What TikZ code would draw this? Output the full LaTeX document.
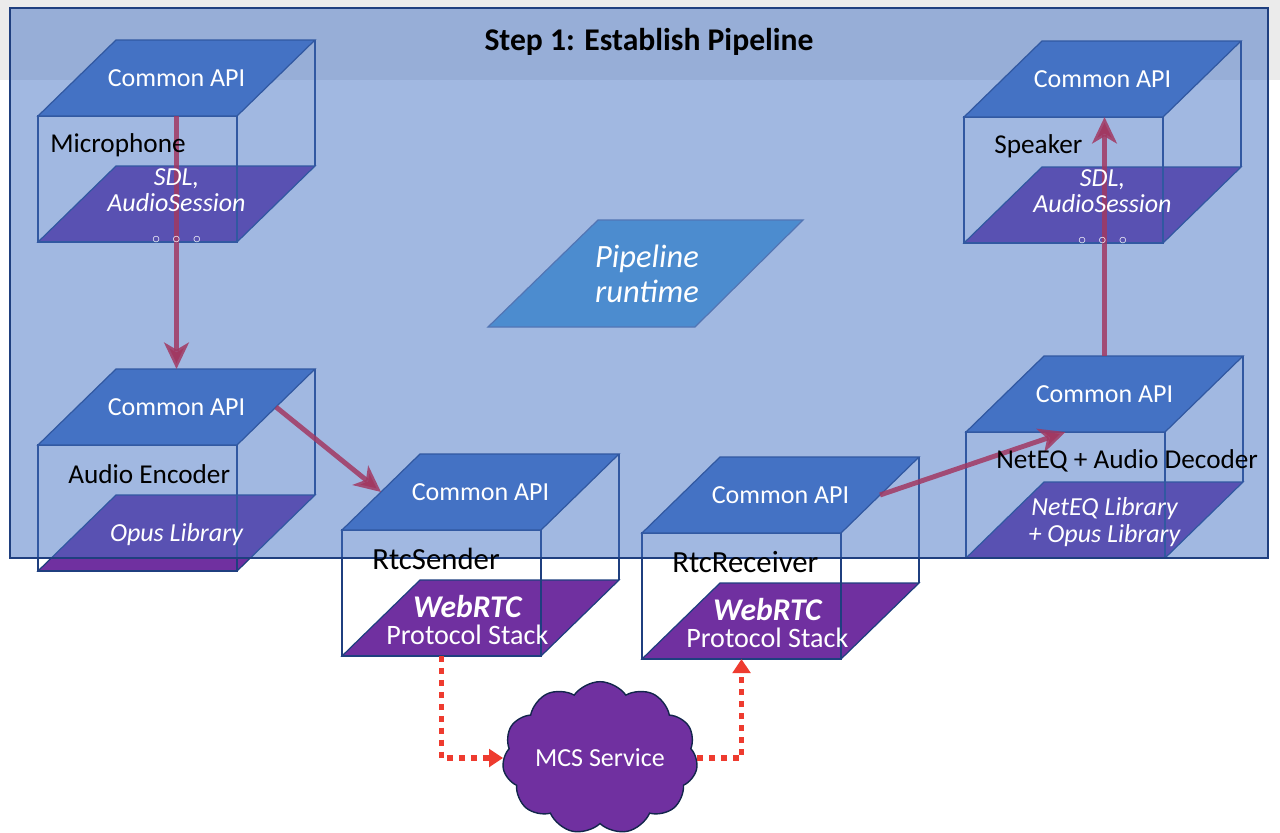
\documentclass[tikz,border=0pt]{standalone}
\usepackage{fontspec}
\setmainfont{Carlito}
\usetikzlibrary{calc, arrows.meta, shapes.symbols}

\definecolor{apiblue}{HTML}{4472C4}
\definecolor{libpurple}{HTML}{7030A0}
\definecolor{boxnavy}{HTML}{1F3F7F}
\definecolor{runblue}{HTML}{55A8DC}
\definecolor{linkred}{HTML}{FF0000}
\definecolor{netred}{HTML}{EE3B2F}
\definecolor{bandgray}{HTML}{EBEBEB}

\pgfdeclarelayer{boxes}
\pgfdeclarelayer{veil}
\pgfsetlayers{boxes,veil,main}

\tikzset{
  txt/.style={font=\fontsize{14.8}{17}\selectfont, inner sep=0pt},
  apitext/.style={txt, text=white},
  libtext/.style={txt, text=white, font=\fontsize{14.8}{15}\selectfont\itshape, align=center},
  boxlabel/.style={txt, anchor=west, font=\fontsize{15.5}{18}\selectfont},
  boxline/.style={draw=boxnavy, line width=0.7pt},
  flow/.style={draw=linkred, draw opacity=0.85, line width=2.8pt, -{Stealth[length=15pt,width=14pt,inset=4pt]}},
  net/.style={draw=netred, line width=3.2pt, dash pattern=on 3.4pt off 3.4pt, -{Triangle[length=8pt,width=10pt]}},
}

% one component box: [label shift] name, front top corner, label, library text
\newcommand\apibox[5][30]{%
  \begin{pgfonlayer}{boxes}
    \path[boxline, fill=libpurple] ($#3+(0,126)$) -- ++(199,0) -- ++(78,-76) -- ++(-199,0) -- cycle;
    \draw[boxline] #3 rectangle ++(199,126);
    \draw[boxline] ($#3+(277,-76)$) -- ++(0,126);
    \path[boxline, fill=apiblue] #3 -- ++(199,0) -- ++(78,-76) -- ++(-199,0) -- cycle;
  \end{pgfonlayer}
  \coordinate (#2-front) at ($#3+(99.5,0)$);
  \coordinate (#2-back)  at ($#3+(177.5,-76)$);
  \coordinate (#2-left)  at ($#3+(39,-38)$);
  \coordinate (#2-right) at ($#3+(238,-38)$);
  \coordinate (#2-base)  at ($#3+(99.5,126)$);
  \node[apitext]  (#2-api) at ($#3+(138.5,-38)$) {Common API};
  \node[boxlabel] (#2-lbl) at ($#3+(#1,29)$) {#4};
  \node[libtext]  (#2-lib) at ($#3+(138.5,90)$) {#5};
}
\newcommand\morerings{\fontsize{9}{9}\selectfont$\circ$\hspace{7pt}$\circ$\hspace{7pt}$\circ$}
\newcommand\webrtc{\fontsize{18}{19}\selectfont\bfseries WebRTC\hspace*{15pt}\\\fontsize{16}{19}\selectfont\upshape\mdseries Protocol Stack\hspace*{15pt}}

\begin{document}
\begin{tikzpicture}[x=0.02cm, y=-0.02cm]
  \useasboundingbox (0,0) rectangle (1280,832);
  \begin{pgfonlayer}{boxes}
    \fill[bandgray] (0,0) rectangle (1280,80);
  \end{pgfonlayer}

  \apibox[12]{mic}{(38,116)}{Microphone}{SDL,\\AudioSession\\[3pt]{\morerings}}
  \apibox{enc}{(38,445)}{Audio Encoder}{Opus Library}
  \apibox{snd}{(342,530)}{\fontsize{17.5}{20}\selectfont RtcSender}{\webrtc}
  \apibox{rcv}{(642,533)}{\fontsize{17.5}{20}\selectfont RtcReceiver}{\webrtc}
  \apibox{dec}{(966,432)}{NetEQ + Audio Decoder}{\fontsize{14.8}{16.5}\selectfont NetEQ Library\\+ Opus Library}
  \apibox{spk}{(964,117)}{Speaker}{SDL,\\AudioSession\\[3pt]{\morerings}}

  % pipeline runtime in the middle
  \begin{pgfonlayer}{boxes}
    \path[boxline, draw=boxnavy!70, fill=runblue] (598,220) -- (803,220) -- (695,327) -- (488,327) -- cycle;
  \end{pgfonlayer}
  \node[txt, text=white, font=\fontsize{18.5}{20}\selectfont\itshape, align=center] (runtime) at (647,274) {Pipeline\\runtime};

  % audio flow
  \begin{pgfonlayer}{boxes}
    \draw[flow] (mic-api |- mic-front) -- (mic-api |- enc-back);
    \draw[flow] (enc-right) -- (snd-left);
    \draw[flow] (rcv-right) -- (dec-front);
    \draw[flow] (dec-api |- dec-back) -- (dec-api |- spk-front);
  \end{pgfonlayer}

  \begin{pgfonlayer}{veil}
    \path[draw=boxnavy, line width=0.9pt, fill=apiblue, fill opacity=0.5] (10,8) rectangle (1268,558);
  \end{pgfonlayer}
  \node[font=\fontsize{18}{20}\selectfont\bfseries, inner sep=0pt] (title) at (649,42) {Step 1: Establish Pipeline};

  % network
  \node[cloud, cloud puffs=11, cloud puff arc=110, aspect=1.4, fill=libpurple, draw=boxnavy!60!black,
        line width=0.8pt, minimum width=3.7cm, minimum height=2.8cm, txt, text=white] (mcs) at (600,758) {MCS Service};
  \draw[net] (snd-base) |- (mcs);
  \draw[net] (mcs) -| (rcv-base);
\end{tikzpicture}
\end{document}
